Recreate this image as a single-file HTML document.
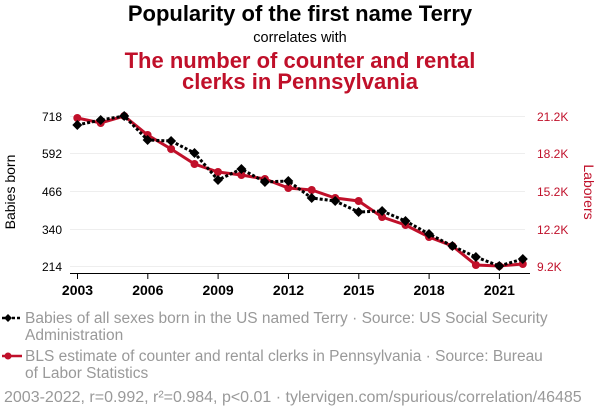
<!DOCTYPE html>
<html><head><meta charset="utf-8"><style>
body{margin:0;background:#fff;width:600px;height:414px;overflow:hidden;font-family:"Liberation Sans",sans-serif}
</style></head><body>
<svg width="600" height="414" xmlns="http://www.w3.org/2000/svg" font-family="Liberation Sans, sans-serif">
<text x="300" y="21" text-anchor="middle" font-size="22" font-weight="bold" fill="#000">Popularity of the first name Terry</text>
<text x="300" y="42" text-anchor="middle" font-size="14.5" fill="#000">correlates with</text>
<text x="300" y="68" text-anchor="middle" font-size="22" font-weight="bold" fill="#c0102a">The number of counter and rental</text>
<text x="300" y="89" text-anchor="middle" font-size="22" font-weight="bold" fill="#c0102a">clerks in Pennsylvania</text>
<g stroke="#eee" stroke-width="1">
<line x1="70" x2="525" y1="116.5" y2="116.5"/><line x1="70" x2="525" y1="153.5" y2="153.5"/><line x1="70" x2="525" y1="191.5" y2="191.5"/><line x1="70" x2="525" y1="229.5" y2="229.5"/><line x1="70" x2="525" y1="266.5" y2="266.5"/>
</g>
<line x1="70" x2="530" y1="273.5" y2="273.5" stroke="#000"/>
<g stroke="#000"><line x1="77.5" x2="77.5" y1="273" y2="279"/><line x1="147.8" x2="147.8" y1="273" y2="279"/><line x1="218.1" x2="218.1" y1="273" y2="279"/><line x1="288.5" x2="288.5" y1="273" y2="279"/><line x1="358.8" x2="358.8" y1="273" y2="279"/><line x1="429.1" x2="429.1" y1="273" y2="279"/><line x1="499.4" x2="499.4" y1="273" y2="279"/></g>
<g font-size="14" font-weight="bold" text-anchor="middle" fill="#000"><text x="77.5" y="295">2003</text><text x="147.8" y="295">2006</text><text x="218.1" y="295">2009</text><text x="288.5" y="295">2012</text><text x="358.8" y="295">2015</text><text x="429.1" y="295">2018</text><text x="499.4" y="295">2021</text></g>
<g font-size="12" text-anchor="end" fill="#000"><text x="62" y="121">718</text><text x="62" y="158">592</text><text x="62" y="196">466</text><text x="62" y="234">340</text><text x="62" y="271">214</text></g>
<g font-size="12" fill="#c0102a"><text x="537" y="121">21.2K</text><text x="537" y="158">18.2K</text><text x="537" y="196">15.2K</text><text x="537" y="234">12.2K</text><text x="537" y="271">9.2K</text></g>
<text transform="translate(15,192) rotate(-90)" text-anchor="middle" font-size="14" fill="#000">Babies born</text>
<text transform="translate(584,192) rotate(90)" text-anchor="middle" font-size="14" fill="#c0102a">Laborers</text>
<polyline fill="none" stroke="#c0102a" stroke-width="3" points="77.3,118 100.7,123 124.2,116 147.6,135 171.1,149 194.5,164 218,172 241.4,175 264.9,179 288.3,188 311.7,190 335.2,198 358.6,201 382.1,217 405.5,225 429,237 452.4,246 475.9,265 499.3,266 522.8,264"/>
<g fill="#c0102a"><circle cx="77.3" cy="118" r="4"/><circle cx="100.7" cy="123" r="4"/><circle cx="124.2" cy="116" r="4"/><circle cx="147.6" cy="135" r="4"/><circle cx="171.1" cy="149" r="4"/><circle cx="194.5" cy="164" r="4"/><circle cx="218" cy="172" r="4"/><circle cx="241.4" cy="175" r="4"/><circle cx="264.9" cy="179" r="4"/><circle cx="288.3" cy="188" r="4"/><circle cx="311.7" cy="190" r="4"/><circle cx="335.2" cy="198" r="4"/><circle cx="358.6" cy="201" r="4"/><circle cx="382.1" cy="217" r="4"/><circle cx="405.5" cy="225" r="4"/><circle cx="429" cy="237" r="4"/><circle cx="452.4" cy="246" r="4"/><circle cx="475.9" cy="265" r="4"/><circle cx="499.3" cy="266" r="4"/><circle cx="522.8" cy="264" r="4"/></g>
<polyline fill="none" stroke="#000" stroke-width="3" stroke-dasharray="3,2" points="77.3,125 100.7,120 124.2,116 147.6,140 171.1,141 194.5,153 218,180 241.4,169 264.9,182 288.3,181 311.7,198 335.2,201 358.6,212 382.1,211 405.5,221 429,234 452.4,246 475.9,257 499.3,266 522.8,259"/>
<g fill="#000">
<path d="M77.3,120l5,5l-5,5l-5,-5z"/><path d="M100.7,115l5,5l-5,5l-5,-5z"/><path d="M124.2,111l5,5l-5,5l-5,-5z"/><path d="M147.6,135l5,5l-5,5l-5,-5z"/><path d="M171.1,136l5,5l-5,5l-5,-5z"/><path d="M194.5,148l5,5l-5,5l-5,-5z"/><path d="M218,175l5,5l-5,5l-5,-5z"/><path d="M241.4,164l5,5l-5,5l-5,-5z"/><path d="M264.9,177l5,5l-5,5l-5,-5z"/><path d="M288.3,176l5,5l-5,5l-5,-5z"/><path d="M311.7,193l5,5l-5,5l-5,-5z"/><path d="M335.2,196l5,5l-5,5l-5,-5z"/><path d="M358.6,207l5,5l-5,5l-5,-5z"/><path d="M382.1,206l5,5l-5,5l-5,-5z"/><path d="M405.5,216l5,5l-5,5l-5,-5z"/><path d="M429,229l5,5l-5,5l-5,-5z"/><path d="M452.4,241l5,5l-5,5l-5,-5z"/><path d="M475.9,252l5,5l-5,5l-5,-5z"/><path d="M499.3,261l5,5l-5,5l-5,-5z"/><path d="M522.8,254l5,5l-5,5l-5,-5z"/>
</g>
<line x1="2" x2="22" y1="318" y2="318" stroke="#000" stroke-width="2.5" stroke-dasharray="3,2"/>
<path d="M8,314l4,4l-4,4l-4,-4z" fill="#000"/>
<text x="25" y="323" font-size="15.5" fill="#999">Babies of all sexes born in the US named Terry · Source: US Social Security</text>
<text x="25" y="340" font-size="15.5" fill="#999">Administration</text>
<line x1="2" x2="22" y1="356" y2="356" stroke="#c0102a" stroke-width="2.5"/>
<circle cx="8" cy="356" r="3.5" fill="#c0102a"/>
<text x="25" y="361" font-size="15.5" fill="#999">BLS estimate of counter and rental clerks in Pennsylvania · Source: Bureau</text>
<text x="25" y="378" font-size="15.5" fill="#999">of Labor Statistics</text>
<text x="4" y="402" font-size="16" fill="#999">2003-2022, r=0.992, r²=0.984, p&lt;0.01 · tylervigen.com/spurious/correlation/46485</text>
</svg>
</body></html>
